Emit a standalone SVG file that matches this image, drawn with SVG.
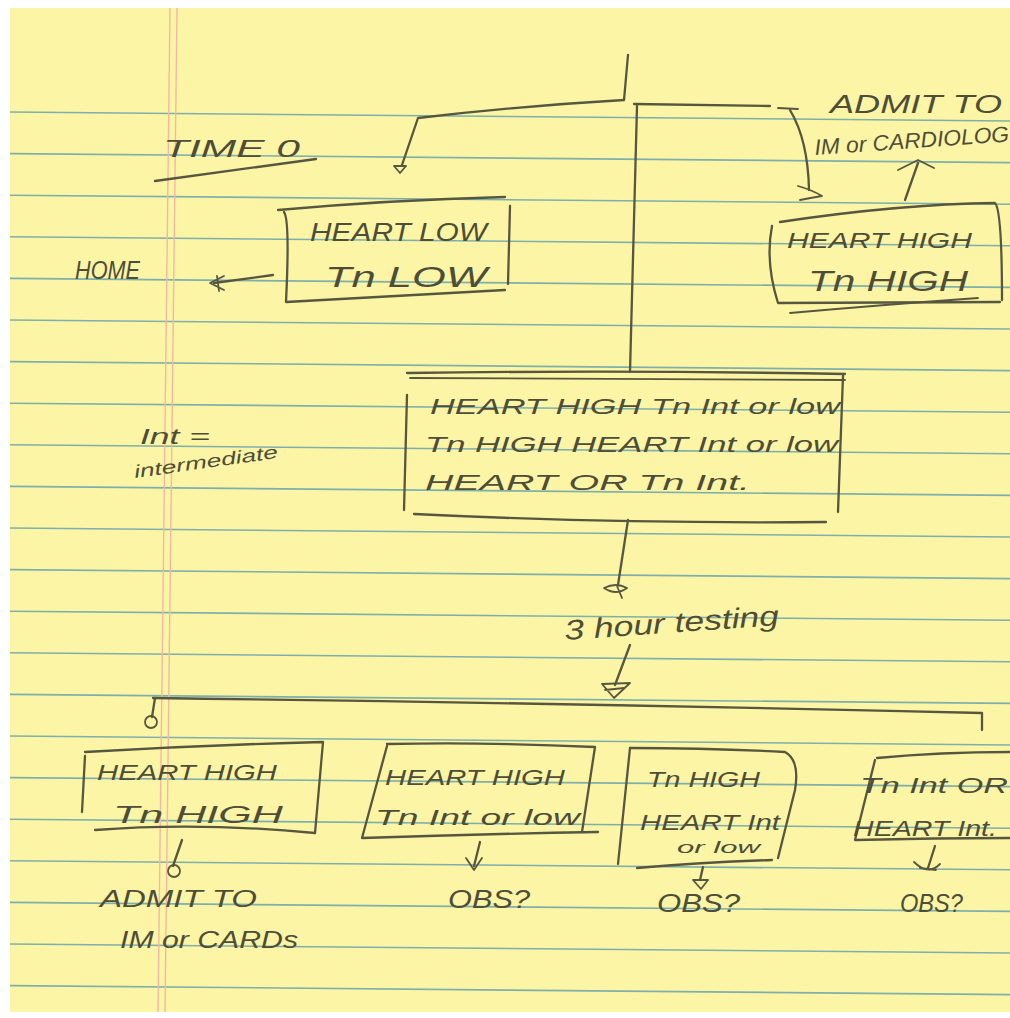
<svg xmlns="http://www.w3.org/2000/svg" width="1010" height="1018" viewBox="0 0 1010 1018">
<defs>
<style>
.rule{stroke:#7FAFAA;stroke-width:1.6;fill:none}
.margin{stroke:#F2B9A2;stroke-width:1.4;fill:none}
.ink{stroke:#57563F;stroke-width:2.3;fill:none;stroke-linecap:round;stroke-linejoin:round}
.inkt{stroke:#57563F;stroke-width:1.8;fill:none;stroke-linecap:round;stroke-linejoin:round}
text{font-family:"Liberation Sans","DejaVu Sans",sans-serif;font-style:italic;fill:#4E4D38}
</style>
</defs>
<rect width="1010" height="1018" fill="#FFFFFF"/>
<rect x="10" y="8" width="1000" height="1004" fill="#FCF5A6"/>
<g id="paper">
<path class="rule" d="M10,112 L1010,121"/>
<path class="rule" d="M10,153.6 L1010,162.6"/>
<path class="rule" d="M10,195.2 L1010,204.2"/>
<path class="rule" d="M10,236.8 L1010,245.8"/>
<path class="rule" d="M10,278.4 L1010,287.4"/>
<path class="rule" d="M10,320 L1010,329"/>
<path class="rule" d="M10,361.6 L1010,370.6"/>
<path class="rule" d="M10,403.2 L1010,412.2"/>
<path class="rule" d="M10,444.8 L1010,453.8"/>
<path class="rule" d="M10,486.4 L1010,495.4"/>
<path class="rule" d="M10,528 L1010,537"/>
<path class="rule" d="M10,569.6 L1010,578.6"/>
<path class="rule" d="M10,611.2 L1010,620.2"/>
<path class="rule" d="M10,652.8 L1010,661.8"/>
<path class="rule" d="M10,694.4 L1010,703.4"/>
<path class="rule" d="M10,736 L1010,745"/>
<path class="rule" d="M10,777.6 L1010,786.6"/>
<path class="rule" d="M10,819.2 L1010,828.2"/>
<path class="rule" d="M10,860.8 L1010,869.8"/>
<path class="rule" d="M10,902.4 L1010,911.4"/>
<path class="rule" d="M10,944 L1010,953"/>
<path class="rule" d="M10,985.6 L1010,994.6"/>
<path class="margin" d="M170,8 L158,1012"/>
<path class="margin" d="M177,8 L165,1012"/>
</g>
<g id="connectors">
<path class="ink" d="M628,55 L624,100"/>
<path class="ink" d="M624,100 Q520,106 418,118 L402,165"/>
<path class="inkt" d="M394,166 L406,166 L400,173 Z"/>
<path class="ink" d="M634,104 L770,106"/>
<path class="ink" d="M637,106 L630,372"/>
<path class="inkt" d="M778,108 L798,109"/>
<path class="ink" d="M790,110 Q808,140 809,190"/>
<path class="inkt" d="M798,186 Q812,190 822,196 Q810,198 800,200"/>
<path class="ink" d="M905,200 L918,163"/>
<path class="inkt" d="M898,170 L918,160 L934,168"/>
<path class="ink" d="M273,275 L214,283"/>
<path class="inkt" d="M224,276 L210,283 L224,290 M217,276 L219,291"/>
<path class="ink" d="M628,520 L618,585"/>
<path class="inkt" d="M604,588 Q616,582 627,588 Q616,596 604,588 Z M617,586 L622,598"/>
<path class="ink" d="M630,645 L615,685"/>
<path class="inkt" d="M602,684 L630,683 L614,698 Z M605,690 L624,688"/>
<path class="ink" d="M153,698 Q560,703 982,713 L982,730"/>
<path class="ink" d="M155,698 L152,717"/>
<circle class="inkt" cx="151" cy="722" r="6"/>
<path class="ink" d="M182,840 L173,866"/>
<circle class="inkt" cx="174" cy="871" r="6"/>
<path class="ink" d="M480,842 L474,866"/>
<path class="inkt" d="M466,858 L474,870 L482,858"/>
<path class="ink" d="M703,867 L700,880"/>
<path class="inkt" d="M693,880 L708,880 L701,889 Z"/>
<path class="ink" d="M935,846 L928,868"/>
<path class="inkt" d="M914,862 Q928,876 940,864 M920,868 L936,870"/>
</g>
<g id="time0">
<text x="163" y="157" font-size="24" textLength="137" lengthAdjust="spacingAndGlyphs">TIME  0</text>
<path class="ink" d="M155,181 Q235,170 316,159"/>
</g>
<g id="home">
<text x="75" y="279" font-size="26" textLength="65" lengthAdjust="spacingAndGlyphs">HOME</text>
</g>
<g id="heart-low">
<path class="ink" d="M278,210 Q390,200 505,197"/>
<path class="ink" d="M284,212 Q290,220 286,302 Q400,296 505,290"/>
<path class="ink" d="M510,206 L508,284"/>
<text x="310" y="241" font-size="26" textLength="177" lengthAdjust="spacingAndGlyphs">HEART LOW</text>
<text x="325" y="287" font-size="30" textLength="162" lengthAdjust="spacingAndGlyphs">Tn  LOW</text>
</g>
<g id="admit-top">
<text x="830" y="113" font-size="26" textLength="172" lengthAdjust="spacingAndGlyphs">ADMIT TO</text>
<text x="815" y="155" font-size="22" textLength="195" lengthAdjust="spacingAndGlyphs" transform="rotate(-4 815 155)">IM or CARDIOLOG</text>
</g>
<g id="heart-high">
<path class="ink" d="M780,222 Q900,204 995,203 Q1002,210 1002,300"/>
<path class="ink" d="M772,226 Q765,262 778,303 L1000,302"/>
<path class="inkt" d="M790,313 Q880,305 978,298"/>
<text x="787" y="248" font-size="22" textLength="185" lengthAdjust="spacingAndGlyphs">HEART HIGH</text>
<text x="808" y="291" font-size="30" textLength="160" lengthAdjust="spacingAndGlyphs">Tn  HIGH</text>
</g>
<g id="intermediate">
<path class="ink" d="M407,373 Q625,370 845,374"/>
<path class="inkt" d="M410,378 L845,380"/>
<path class="ink" d="M843,376 L838,512"/>
<path class="ink" d="M407,395 L404,510"/>
<path class="ink" d="M414,514 Q620,524 826,522"/>
<text x="430" y="414" font-size="22" textLength="410" lengthAdjust="spacingAndGlyphs">HEART HIGH   Tn  Int or low</text>
<text x="425" y="452" font-size="22" textLength="413" lengthAdjust="spacingAndGlyphs">Tn HIGH  HEART  Int or low</text>
<text x="425" y="490" font-size="22" textLength="325" lengthAdjust="spacingAndGlyphs">HEART  OR  Tn  Int.</text>
</g>
<g id="int-note">
<text x="140" y="444" font-size="22" textLength="70" lengthAdjust="spacingAndGlyphs">Int =</text>
<text x="135" y="478" font-size="18" textLength="145" lengthAdjust="spacingAndGlyphs" transform="rotate(-8 135 478)">intermediate</text>
</g>
<g id="testing">
<text x="565" y="640" font-size="28" textLength="215" lengthAdjust="spacingAndGlyphs" transform="rotate(-4 565 640)">3 hour testing</text>
</g>
<g id="box1">
<path class="ink" d="M85,752 Q205,745 323,742 L315,833"/>
<path class="ink" d="M85,756 L82,812"/>
<path class="ink" d="M95,830 Q200,822 315,833"/>
<text x="97" y="780" font-size="22" textLength="180" lengthAdjust="spacingAndGlyphs">HEART HIGH</text>
<text x="113" y="823" font-size="24" textLength="170" lengthAdjust="spacingAndGlyphs">Tn      HIGH</text>
</g>
<g id="admit-bottom">
<text x="100" y="907" font-size="24" textLength="157" lengthAdjust="spacingAndGlyphs">ADMIT TO</text>
<text x="120" y="948" font-size="24" textLength="178" lengthAdjust="spacingAndGlyphs">IM or CARDs</text>
</g>
<g id="box2">
<path class="ink" d="M387,744 Q490,742 595,747 L582,832"/>
<path class="ink" d="M387,746 L362,838 Q480,834 598,832"/>
<text x="385" y="785" font-size="22" textLength="180" lengthAdjust="spacingAndGlyphs">HEART HIGH</text>
<text x="375" y="825" font-size="22" textLength="205" lengthAdjust="spacingAndGlyphs">Tn  Int or low</text>
</g>
<g id="obs1">
<text x="448" y="908" font-size="26" textLength="82" lengthAdjust="spacingAndGlyphs">OBS?</text>
</g>
<g id="box3">
<path class="ink" d="M630,748 Q710,748 785,752 Q800,760 795,790 L778,858"/>
<path class="ink" d="M630,748 L618,864"/>
<path class="ink" d="M637,868 Q705,862 772,860"/>
<text x="647" y="787" font-size="22" textLength="113" lengthAdjust="spacingAndGlyphs">Tn HIGH</text>
<text x="640" y="830" font-size="22" textLength="140" lengthAdjust="spacingAndGlyphs">HEART Int</text>
<text x="677" y="853" font-size="17" textLength="83" lengthAdjust="spacingAndGlyphs">or low</text>
</g>
<g id="obs2">
<text x="657" y="912" font-size="26" textLength="83" lengthAdjust="spacingAndGlyphs">OBS?</text>
</g>
<g id="box4">
<path class="ink" d="M877,758 Q940,752 1010,752"/>
<path class="ink" d="M875,760 L855,840 Q935,838 1010,838"/>
<text x="860" y="793" font-size="22" textLength="148" lengthAdjust="spacingAndGlyphs">Tn  Int OR</text>
<text x="853" y="836" font-size="22" textLength="144" lengthAdjust="spacingAndGlyphs">HEART  Int.</text>
</g>
<g id="obs3">
<text x="900" y="912" font-size="26" textLength="63" lengthAdjust="spacingAndGlyphs">OBS?</text>
</g>
</svg>
